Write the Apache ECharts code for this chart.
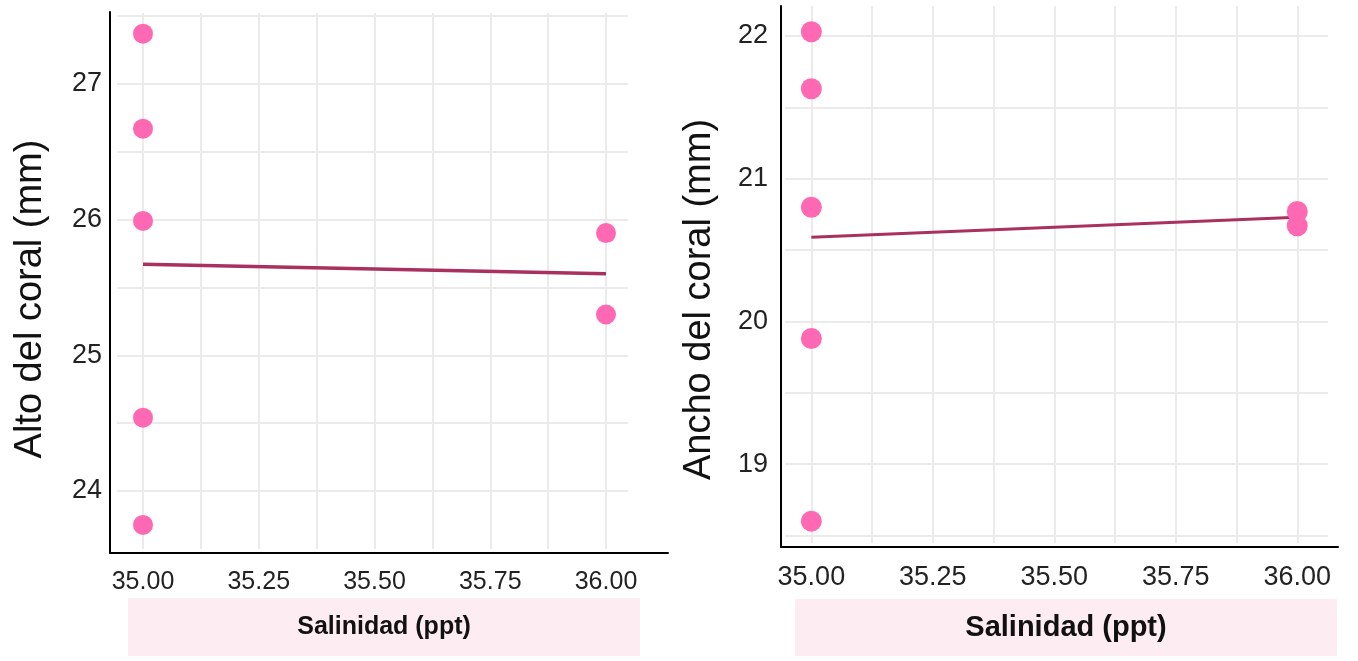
<!DOCTYPE html>
<html>
<head>
<meta charset="utf-8">
<script src="https://cdn.jsdelivr.net/npm/echarts@6.0.0/dist/echarts.min.js"></script>
<style>
html,body{margin:0;padding:0;background:#fff;}
#chart{width:1358px;height:661px;}
</style>
</head>
<body>
<div id="chart"></div>
<script>
// ---- data ----
const salinidad   = [35, 35, 35, 35, 35, 36, 36];
const altoCoral   = [27.37, 26.67, 25.99, 24.54, 23.75, 25.90, 25.30];
const anchoCoral  = [22.03, 21.63, 20.80, 19.88, 18.60, 20.77, 20.67];
const fitSalinidad = [35, 36];
const altoFit     = [25.67, 25.60];
const anchoFit    = [20.59, 20.73];
const xTickLabels = ['35.00', '35.25', '35.50', '35.75', '36.00'];
const altoTicks   = [24, 25, 26, 27];
const anchoTicks  = [19, 20, 21, 22];
const xTitle      = 'Salinidad (ppt)';
const altoTitle   = 'Alto del coral (mm)';
const anchoTitle  = 'Ancho del coral (mm)';

// ---- style ----
const FONT = "'Liberation Sans', Arial, sans-serif";
const GRID = '#ebebeb';
const POINT = '#ff69b4';
const LINE = '#a9305f';
const STRIP = '#fdecf1';
const TICK_TXT = '#222';

const hidden = (extra) => Object.assign({
  type: 'value', show: false,
  axisLine: { show: false }, axisTick: { show: false },
  axisLabel: { show: false }, splitLine: { show: false }
}, extra);

function panel(c, g0, ticks, yTitle) {
  const grids = [
    { left: c.axL, top: c.axT, width: c.axW, height: c.axH },   // axis lines
    { left: c.dL, top: c.vT, width: c.dW, height: c.vH },       // vertical grid + x labels
    { left: c.hL, top: c.hT, width: c.hW, height: c.hH },       // horizontal grid + y labels
    { left: c.dL, top: c.hT, width: c.dW, height: c.hH },       // data
    { left: c.eL, top: c.eT, width: c.eW, height: c.eH }        // strip + titles
  ];
  const axLine = { show: true, onZero: false, lineStyle: { color: '#000', width: 2 } };
  const xAxes = [
    { type: 'value', gridIndex: g0, min: 0, max: 1, axisLine: axLine,
      axisTick: { show: false }, axisLabel: { show: false }, splitLine: { show: false } },
    { type: 'value', gridIndex: g0 + 1, min: 34.875, max: 36.125, interval: 0.125,
      axisLine: { show: false }, axisTick: { show: false },
      axisLabel: { show: true, margin: c.xLabMargin, fontSize: c.xLabSize, color: TICK_TXT,
        fontFamily: FONT, showMinLabel: false, showMaxLabel: false,
        formatter: v => { const s = Number(v).toFixed(2); return xTickLabels.includes(s) ? s : ''; } },
      splitLine: { show: true, showMinLine: false, showMaxLine: false,
        lineStyle: { color: GRID, width: 2 } } },
    hidden({ gridIndex: g0 + 2, min: 0, max: 1 }),
    hidden({ gridIndex: g0 + 3, min: 34.875, max: 36.125 }),
    { type: 'value', gridIndex: g0 + 4, min: 0, max: 1,
      axisLine: { show: false }, axisTick: { show: false }, axisLabel: { show: false },
      splitLine: { show: false },
      name: '{s|' + xTitle + '}', nameLocation: 'middle', nameGap: 0,
      nameTextStyle: {
        verticalAlign: 'top', align: 'center',
        rich: { s: { fontFamily: FONT, fontSize: c.stripSize, fontWeight: 'bold', color: '#111',
          backgroundColor: STRIP, width: c.eW, height: c.stripH, lineHeight: c.stripH,
          align: 'center', verticalAlign: 'middle' } } } }
  ];
  const yAxes = [
    { type: 'value', gridIndex: g0, min: 0, max: 1, axisLine: axLine,
      axisTick: { show: false }, axisLabel: { show: false }, splitLine: { show: false } },
    hidden({ gridIndex: g0 + 1, min: 0, max: 1 }),
    { type: 'value', gridIndex: g0 + 2, min: c.yMin, max: c.yMax, interval: 0.5,
      axisLine: { show: false }, axisTick: { show: false },
      axisLabel: { show: true, margin: c.yLabMargin, fontSize: c.yLabSize, color: TICK_TXT,
        fontFamily: FONT, showMinLabel: false,
        formatter: v => { const r = Math.round(v); return (Math.abs(v - r) < 1e-6 && ticks.includes(r)) ? String(r) : ''; } },
      splitLine: { show: true, showMinLine: false, lineStyle: { color: GRID, width: 2 } } },
    hidden({ gridIndex: g0 + 3, min: c.yMin, max: c.yMax }),
    { type: 'value', gridIndex: g0 + 4, min: 0, max: 1,
      axisLine: { show: false }, axisTick: { show: false }, axisLabel: { show: false },
      splitLine: { show: false },
      name: yTitle, nameLocation: 'middle', nameRotate: 90, nameGap: c.yNameGap,
      nameTextStyle: { fontFamily: FONT, fontSize: 38, color: '#111' } }
  ];
  return { grids, xAxes, yAxes };
}

const leftCfg = {
  axL: 110, axT: 12, axW: 558, axH: 541,
  dL: 85.125, dW: 578.75, vT: 13, vH: 536,
  hL: 117, hW: 511, hT: 16, hH: 542.8,
  eL: 128, eT: -57, eW: 512, eH: 667, stripH: 58, stripSize: 25,
  yMin: 23.5, yMax: 27.5,
  xLabMargin: 21, xLabSize: 25, yLabMargin: 15, yLabSize: 27, yNameGap: 78
};
const rightCfg = {
  axL: 781, axT: 6, axW: 557, axH: 541,
  dL: 750.625, dW: 613.75, vT: 6, vH: 537,
  hL: 785, hW: 543, hT: 36, hH: 570.8,
  eL: 795, eT: -103, eW: 542, eH: 706, stripH: 57, stripSize: 29,
  yMin: 18, yMax: 22,
  xLabMargin: 21, xLabSize: 27, yLabMargin: 17, yLabSize: 27, yNameGap: 76
};

const L = panel(leftCfg, 0, altoTicks, altoTitle);
const R = panel(rightCfg, 5, anchoTicks, anchoTitle);

const pts = (xs, ys) => xs.map((x, i) => [x, ys[i]]);

const option = {
  animation: false,
  backgroundColor: '#fff',
  textStyle: { fontFamily: FONT },
  grid: L.grids.concat(R.grids),
  xAxis: L.xAxes.concat(R.xAxes),
  yAxis: L.yAxes.concat(R.yAxes),
  series: [
    { type: 'line', xAxisIndex: 3, yAxisIndex: 3, data: pts(fitSalinidad, altoFit), clip: false,
      showSymbol: false, lineStyle: { color: LINE, width: 3.5 }, z: 3 },
    { type: 'scatter', xAxisIndex: 3, yAxisIndex: 3, data: pts(salinidad, altoCoral), clip: false,
      symbolSize: 20, itemStyle: { color: POINT, opacity: 1 }, z: 4 },
    { type: 'line', xAxisIndex: 8, yAxisIndex: 8, data: pts(fitSalinidad, anchoFit), clip: false,
      showSymbol: false, lineStyle: { color: LINE, width: 3 }, z: 3 },
    { type: 'scatter', xAxisIndex: 8, yAxisIndex: 8, data: pts(salinidad, anchoCoral), clip: false,
      symbolSize: 21, itemStyle: { color: POINT, opacity: 1 }, z: 4 }
  ]
};

const chart = echarts.init(document.getElementById('chart'), null, { renderer: 'canvas' });
chart.setOption(option);
</script>
</body>
</html>
